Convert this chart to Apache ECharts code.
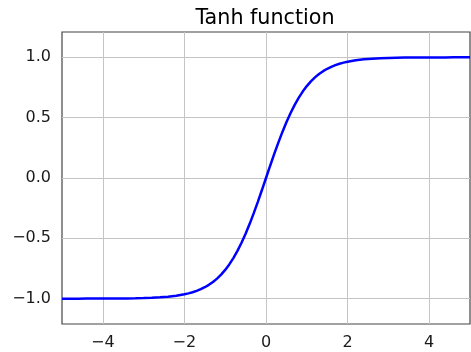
<!DOCTYPE html>
<html>
<head>
<meta charset="utf-8">
<script src="https://cdn.jsdelivr.net/npm/echarts@6/dist/echarts.min.js"></script>
<style>
  html, body { margin: 0; padding: 0; background: #fff; }
  #chart { width: 471px; height: 352px; }
</style>
</head>
<body>
<div id="chart"></div>
<script>
// Sample points of the hyperbolic tangent curve
const xValues = [
  -5.0, -4.8, -4.6, -4.4, -4.2, -4.0, -3.8, -3.6, -3.4, -3.2, -3.0, -2.8, -2.6, -2.4, -2.2,
  -2.0, -1.9, -1.8, -1.7, -1.6, -1.5, -1.4, -1.3, -1.2, -1.1, -1.0, -0.9, -0.8, -0.7, -0.6,
  -0.5, -0.4, -0.3, -0.2, -0.1, 0.0, 0.1, 0.2, 0.3, 0.4, 0.5, 0.6, 0.7, 0.8, 0.9, 1.0,
  1.1, 1.2, 1.3, 1.4, 1.5, 1.6, 1.7, 1.8, 1.9, 2.0, 2.2, 2.4, 2.6, 2.8, 3.0, 3.2, 3.4,
  3.6, 3.8, 4.0, 4.2, 4.4, 4.6, 4.8, 5.0
];
const yValues = [
  -0.9999, -0.9999, -0.9998, -0.9997, -0.9996, -0.9993, -0.9990, -0.9985, -0.9978, -0.9967,
  -0.9951, -0.9926, -0.9890, -0.9837, -0.9757,
  -0.9640, -0.9562, -0.9468, -0.9354, -0.9217, -0.9051, -0.8854, -0.8617, -0.8337, -0.8005,
  -0.7616, -0.7163, -0.6640, -0.6044, -0.5370, -0.4621, -0.3799, -0.2913, -0.1974, -0.0997,
  0.0, 0.0997, 0.1974, 0.2913, 0.3799, 0.4621, 0.5370, 0.6044, 0.6640, 0.7163, 0.7616,
  0.8005, 0.8337, 0.8617, 0.8854, 0.9051, 0.9217, 0.9354, 0.9468, 0.9562, 0.9640,
  0.9757, 0.9837, 0.9890, 0.9926, 0.9951, 0.9967, 0.9978, 0.9985, 0.9990, 0.9993,
  0.9996, 0.9997, 0.9998, 0.9999, 0.9999
];
const xTicks = [-4, -2, 0, 2, 4];
const yTicks = [-1.0, -0.5, 0.0, 0.5, 1.0];
const titleText = 'Tanh function';

const font = 'DejaVu Sans';
const points = xValues.map((x, i) => [x, yValues[i]]);

const fmtX = v => (v < 0 ? '\u2212' + Math.abs(v) : String(v));
const fmtY = v => (v < 0 ? '\u2212' + Math.abs(v).toFixed(1) : v.toFixed(1));

const chart = echarts.init(document.getElementById('chart'), null, { renderer: 'canvas' });
chart.setOption({
  animation: false,
  backgroundColor: '#ffffff',
  title: {
    text: titleText,
    left: 260, top: 3, textAlign: 'center',
    textStyle: { fontFamily: font, fontSize: 20.7, fontWeight: 'normal', color: '#000' }
  },
  grid: {
    left: 62, right: 1, top: 32, bottom: 28,
    show: true, borderColor: '#444', borderWidth: 1.2, backgroundColor: 'transparent'
  },
  xAxis: {
    type: 'value', min: -5, max: 5,
    axisLine: { show: false },
    axisTick: { show: true, customValues: xTicks, length: 4, inside: false,
      lineStyle: { color: '#444', width: 1 } },
    axisLabel: { show: true, customValues: xTicks, formatter: fmtX, margin: 11,
      fontFamily: font, fontSize: 16, color: '#1a1a1a' },
    splitLine: { show: false }
  },
  yAxis: {
    type: 'value', min: -1.21, max: 1.21,
    axisLine: { show: false },
    axisTick: { show: true, customValues: yTicks, length: 4, inside: false,
      lineStyle: { color: '#444', width: 1 } },
    axisLabel: { show: true, customValues: yTicks, formatter: fmtY, margin: 11,
      fontFamily: font, fontSize: 16, color: '#1a1a1a' },
    splitLine: { show: false }
  },
  series: [
    {
      // grid lines at the tick positions
      type: 'line', data: [], silent: true, z: 1,
      markLine: {
        silent: true, symbol: 'none', label: { show: false }, z: 1,
        lineStyle: { color: '#c4c4c4', width: 1, type: 'solid' },
        data: xTicks.map(v => ({ xAxis: v })).concat(yTicks.map(v => ({ yAxis: v })))
      }
    },
    {
      type: 'line', data: points, showSymbol: false, smooth: false, z: 10, zlevel: 1,
      lineStyle: { color: '#0000ff', width: 2.5 }
    }
  ]
});
</script>
</body>
</html>
